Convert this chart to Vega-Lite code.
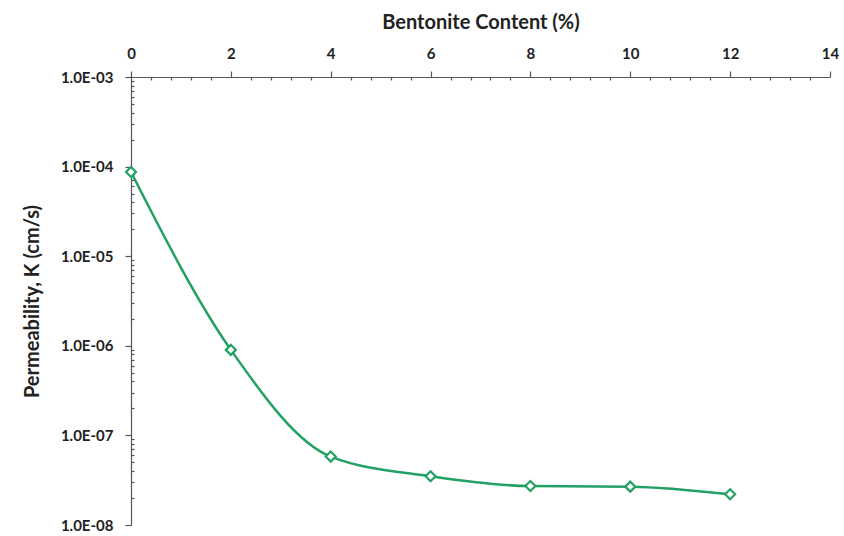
{
  "$schema": "https://vega.github.io/schema/vega-lite/v6.json",
  "autosize": "none",
  "padding": {"left": 131, "top": 77, "right": 14, "bottom": 11},
  "width": 699,
  "height": 448,
  "background": "white",
  "config": {
    "view": {"stroke": null},
    "axis": {"grid": false, "labelFont": "Lato", "titleFont": "Lato", "labelFontWeight": "bold", "titleFontWeight": "bold", "labelColor": "#222222", "titleColor": "#222222", "domainColor": "#555555", "tickColor": "#555555", "domainWidth": 1.2, "tickWidth": 1.2}
  },
  "data": {"values": [
    {"bentonite": 0, "k": 8.7e-5},
    {"bentonite": 2, "k": 9.0e-7},
    {"bentonite": 4, "k": 5.8e-8},
    {"bentonite": 6, "k": 3.5e-8},
    {"bentonite": 8, "k": 2.72e-8},
    {"bentonite": 10, "k": 2.68e-8},
    {"bentonite": 12, "k": 2.2e-8}
  ]},
  "encoding": {
    "x": {
      "field": "bentonite", "type": "quantitative",
      "scale": {"domain": [0, 14], "nice": false, "zero": false},
      "axis": {
        "orient": "top",
        "title": "Bentonite Content (%)",
        "titleFontSize": 20,
        "titlePadding": 14,
        "labelFontSize": 15,
        "labelPadding": 10,
        "values": [0,0.4,0.8,1.2,1.6,2,2.4,2.8,3.2,3.6,4,4.4,4.8,5.2,5.6,6,6.4,6.8,7.2,7.6,8,8.4,8.8,9.2,9.6,10,10.4,10.8,11.2,11.6,12,12.4,12.8,13.2,13.6,14],
        "labelExpr": "abs(datum.value/2 - round(datum.value/2)) < 0.001 ? format(datum.value, 'd') : ''",
        "tickSize": {"condition": {"test": "abs(datum.value/2 - round(datum.value/2)) < 0.001", "value": 6}, "value": -3},
        "labelOverlap": false,
        "labelFlush": false
      }
    },
    "y": {
      "field": "k", "type": "quantitative",
      "scale": {"type": "log", "domain": [1e-8, 1e-3], "nice": false},
      "axis": {
        "title": "Permeability, K (cm/s)",
        "titleFontSize": 20,
        "titlePadding": 18,
        "labelFontSize": 15,
        "labelPadding": 12,
        "values": [1e-8,2e-8,3e-8,4e-8,5e-8,6e-8,7e-8,8e-8,9e-8,1e-7,2e-7,3e-7,4e-7,5e-7,6e-7,7e-7,8e-7,9e-7,1e-6,2e-6,3e-6,4e-6,5e-6,6e-6,7e-6,8e-6,9e-6,1e-5,2e-5,3e-5,4e-5,5e-5,6e-5,7e-5,8e-5,9e-5,1e-4,2e-4,3e-4,4e-4,5e-4,6e-4,7e-4,8e-4,9e-4,1e-3],
        "labelExpr": "abs(log(datum.value)/LN10 - round(log(datum.value)/LN10)) < 0.001 ? '1.0E-0' + (-round(log(datum.value)/LN10)) : ''",
        "tickSize": {"condition": {"test": "abs(log(datum.value)/LN10 - round(log(datum.value)/LN10)) < 0.001", "value": 6}, "value": -3},
        "labelOverlap": false,
        "labelFlush": false
      }
    }
  },
  "layer": [
    {"mark": {"type": "line", "interpolate": "monotone", "color": "#23a064", "strokeWidth": 2.5}},
    {"mark": {"type": "point", "shape": "diamond", "size": 100, "filled": false, "fill": "white", "fillOpacity": 1, "stroke": "#23a064", "strokeWidth": 2.2, "opacity": 1}}
  ]
}
